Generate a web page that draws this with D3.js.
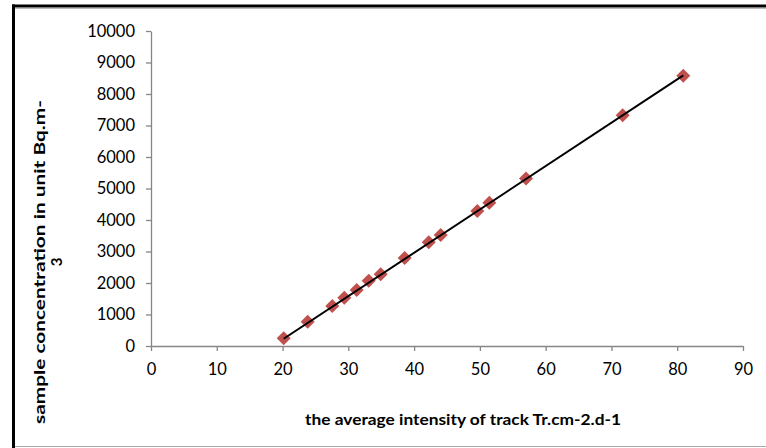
<!DOCTYPE html>
<html><head><meta charset="utf-8">
<script src="https://cdn.jsdelivr.net/npm/d3@7"></script>
<style>html,body{margin:0;padding:0;background:#fff;}svg{display:block;}</style>
</head><body>
<svg id="c" width="766" height="448"></svg>
<script>
const xValues = [20.17, 23.82, 27.56, 29.39, 31.27, 33.10, 34.92, 38.57, 42.23, 44.04, 49.61, 51.43, 57.01, 71.71, 80.92];
const yValues = [244, 771, 1270, 1533, 1778, 2073, 2276, 2794, 3295, 3524, 4286, 4549, 5317, 7324, 8581];
const trendX = [20.17, 80.92];
const trendY = [230, 8590];
const xTicks = [0, 10, 20, 30, 40, 50, 60, 70, 80, 90];
const yTicks = [0, 1000, 2000, 3000, 4000, 5000, 6000, 7000, 8000, 9000, 10000];
const xTitle = "the average intensity of track Tr.cm-2.d-1";
const yTitle1 = "sample concentration in unit Bq.m-";
const yTitle2 = "3";

const svg = d3.select("#c");
const x = d3.scaleLinear().domain([0, 90]).range([151, 743]);
const y = d3.scaleLinear().domain([0, 10000]).range([346, 31]);
const font = "Lato, 'Open Sans', sans-serif";

// frame
svg.append("line").attr("x1", 12).attr("x2", 766).attr("y1", 6).attr("y2", 6).attr("stroke", "#000").attr("stroke-width", 3);
svg.append("line").attr("x1", 12).attr("x2", 766).attr("y1", 8.5).attr("y2", 8.5).attr("stroke", "#bbb").attr("stroke-width", 1);
svg.append("line").attr("x1", 13.5).attr("x2", 13.5).attr("y1", 4.5).attr("y2", 448).attr("stroke", "#000").attr("stroke-width", 3);
svg.append("line").attr("x1", 15).attr("x2", 766).attr("y1", 446.5).attr("y2", 446.5).attr("stroke", "#aaa").attr("stroke-width", 1);

// axes
const gx = svg.append("g").attr("transform", "translate(0,346)")
  .call(d3.axisBottom(x).tickValues(xTicks).tickSize(5).tickPadding(12).tickSizeOuter(0));
const gy = svg.append("g").attr("transform", "translate(151,0)")
  .call(d3.axisLeft(y).tickValues(yTicks).tickSize(5).tickPadding(11).tickFormat(d3.format("d")).tickSizeOuter(0));
[gx, gy].forEach(g => {
  g.select(".domain").attr("stroke", "#868686").attr("stroke-width", 1.3);
  g.selectAll(".tick line").attr("stroke", "#868686").attr("stroke-width", 1.3);
  g.selectAll(".tick text").attr("fill", "#000").style("font-family", font).style("font-size", "16.5px");
});

// markers
svg.append("g").selectAll("path").data(xValues).join("path")
  .attr("d", d3.symbol().type(d3.symbolDiamond2).size(125))
  .attr("transform", (d, i) => `translate(${x(d)},${y(yValues[i])})`)
  .attr("fill", "#C0504D");

// trend line
svg.append("path")
  .datum(trendX.map((d, i) => [d, trendY[i]]))
  .attr("d", d3.line().x(d => x(d[0])).y(d => y(d[1])))
  .attr("stroke", "#000").attr("stroke-width", 2).attr("fill", "none");

// titles
svg.append("text").attr("x", 463).attr("y", 425).attr("text-anchor", "middle")
  .style("font-family", font).style("font-size", "15px").style("font-weight", "bold")
  .attr("textLength", 316).attr("lengthAdjust", "spacingAndGlyphs")
  .text(xTitle);
svg.append("text").attr("transform", "translate(45,262) rotate(-90)").attr("text-anchor", "middle")
  .style("font-family", font).style("font-size", "15px").style("font-weight", "bold")
  .attr("textLength", 324).attr("lengthAdjust", "spacingAndGlyphs")
  .text(yTitle1);
svg.append("text").attr("transform", "translate(62,262) rotate(-90)").attr("text-anchor", "middle")
  .style("font-family", font).style("font-size", "15px").style("font-weight", "bold")
  .text(yTitle2);
</script>
</body></html>
